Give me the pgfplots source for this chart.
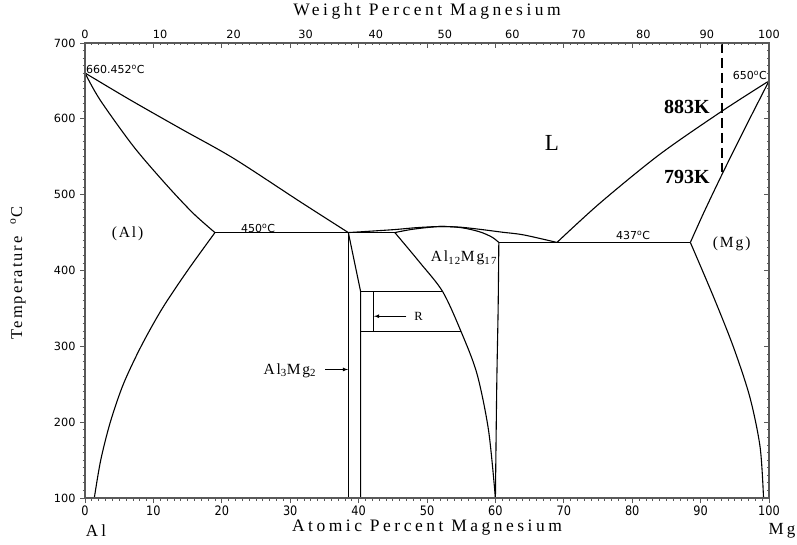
\documentclass[border=0pt]{standalone}
\usepackage{pgfplots}
\pgfplotsset{compat=1.18}
\usepackage{fontspec}
\setmainfont{Liberation Serif}
\newfontfamily\tickfont{DejaVu Sans}
\newfontfamily\spacedserif[LetterSpace=12]{Liberation Serif}
\newfontfamily\titleserif[LetterSpace=20]{Liberation Serif}
\begin{document}
\begin{tikzpicture}
\useasboundingbox (0,0) rectangle (797bp,545bp);
\pgfplotsset{
  geo/.style={at={(85bp,47bp)}, anchor=south west, scale only axis,
    width=684bp, height=455bp, xmin=0, xmax=100, ymin=100, ymax=700,
    xtick={0,10,...,100}, minor x tick num=9,
    ytick={100,200,...,700}, minor y tick num=9,
    major tick length=5bp, minor tick length=2.5bp,
    axis line style={line width=1.1bp, black!65},
    tick style={black!65, line width=0.7bp},
    ticklabel style={font=\tickfont\fontsize{11.3bp}{13bp}\selectfont},
    /pgf/number format/assume math mode=true,
  },
  curve/.style={black, line width=1.1bp, no marks},
}
\begin{axis}[geo, xtick pos=bottom, ytick pos=left, tick align=outside,
  xticklabel style={yscale=1.15, yshift=1bp},
  yticklabel style={xshift=-1bp}, clip=false]
% Al liquidus
\addplot[curve, smooth] coordinates {(0,660.45) (6.6,625) (14,587) (21.7,548) (31.4,491) (38.5,450)};
% Al solidus
\addplot[curve, smooth] coordinates {(0,660.45) (2.2,625) (7.1,563.5) (11.9,513) (15.8,475.6) (19,450)};
% Al solvus
\addplot[curve, smooth] coordinates {(19,450) (15.0,400) (11.3,350) (8.2,300) (5.6,250) (3.7,200) (2.3,150) (1.36,100)};
% 450 eutectic
\addplot[curve] coordinates {(19,450) (45.3,450)};
% Al3Mg2 boundaries
\addplot[curve] coordinates {(38.5,450) (38.5,100)};
\addplot[curve] coordinates {(38.5,450) (40.3,372) (40.3,100)};
% R phase
\addplot[curve] coordinates {(40.3,372) (52.3,372)};
\addplot[curve] coordinates {(40.3,319) (55.0,319)};
\addplot[curve] coordinates {(42.15,372) (42.15,319)};
% Al12Mg17 left boundary
\addplot[curve, smooth] coordinates {(45.3,450) (49.0,410) (52.3,372) (55.0,319) (57.3,264) (59.0,189) (60.0,100)};
% Al12Mg17 right boundary
\addplot[curve, smooth] coordinates {(60.5,437) (60.4,350) (60.2,250) (60.0,100)};
% liquidus over gamma
\addplot[curve, smooth] coordinates {(38.5,450) (42,452) (45.3,454) (48.5,456.5) (51.9,458) (55,457) (58,454) (61,450.5) (64.1,447) (69,437)};
% gamma solidus
\addplot[curve, smooth] coordinates {(45.3,450) (48,454.5) (51.9,458) (55,456.5) (57.7,451) (59.5,444) (60.5,437)};
% 437 eutectic
\addplot[curve] coordinates {(60.5,437) (88.5,437)};
% Mg liquidus
\addplot[curve, smooth] coordinates {(69,437) (75.3,489) (84,553) (93.1,610) (100,650)};
% Mg solidus
\addplot[curve, smooth] coordinates {(88.5,437) (90.5,477) (93.2,528) (96.5,588) (100,650)};
% Mg solvus
\addplot[curve, smooth] coordinates {(88.5,437) (91.9,365) (94.8,299) (97.2,233) (98.7,167) (99.2,100)};
% dashed line
\addplot[black, line width=2.6bp, dash pattern=on 10bp off 5bp, no marks] coordinates {(93.1,700) (93.1,530)};
% arrows
\addplot[black, line width=0.8bp, -latex, no marks] coordinates {(35.1,269.5) (38.45,269.5)};
\addplot[black, line width=0.8bp, -latex, no marks] coordinates {(47.0,339.7) (42.25,339.7)};
\end{axis}
\begin{axis}[geo, xtick pos=top, ytick pos=right, tick align=inside,
  xticklabels={}, yticklabels={},
  extra x ticks={0,10.980,21.724,32.239,42.532,52.609,62.481,72.147,81.619,90.901,100},
  extra x tick labels={0,10,20,30,40,50,60,70,80,90,100},
  extra x tick style={major tick length=0bp, xticklabel pos=top, tick align=inside},
  xticklabel style={yshift=1bp}]
\end{axis}
% texts
\node[font=\titleserif\fontsize{17.5bp}{19bp}\selectfont] at (427bp,534bp) {Weight Percent Magnesium};
\node[font=\titleserif\fontsize{17.5bp}{19bp}\selectfont] at (427bp,17bp) {Atomic Percent Magnesium};
\node[font=\titleserif\fontsize{17bp}{19bp}\selectfont] at (96bp,14bp) {Al};
\node[font=\titleserif\fontsize{17bp}{19bp}\selectfont] at (782bp,14bp) {Mg};
\node[font=\spacedserif\fontsize{16.5bp}{18bp}\selectfont, rotate=90] at (18bp,272bp) {Temperature\ \ \textsuperscript{o}C};
\node[font=\tickfont\fontsize{11bp}{12bp}\selectfont, anchor=west, inner sep=0pt] at (86bp,475.5bp) {660.452\textsuperscript{o}C};
\node[font=\tickfont\fontsize{11bp}{12bp}\selectfont, anchor=east, inner sep=0pt] at (767bp,470bp) {650\textsuperscript{o}C};
\node[font=\tickfont\fontsize{11bp}{12bp}\selectfont, inner sep=0pt] at (258bp,316.7bp) {450\textsuperscript{o}C};
\node[font=\tickfont\fontsize{11bp}{12bp}\selectfont, inner sep=0pt] at (633bp,309.3bp) {437\textsuperscript{o}C};
\node[font=\spacedserif\fontsize{15.5bp}{18bp}\selectfont, inner sep=0pt] at (127.5bp,311.7bp) {(Al)};
\node[font=\spacedserif\fontsize{15.5bp}{18bp}\selectfont, inner sep=0pt] at (731.7bp,301bp) {(Mg)};
\node[font=\fontsize{23bp}{25bp}\selectfont, inner sep=0pt] at (552bp,402bp) {L};
\node[font=\spacedserif\fontsize{15.5bp}{18bp}\selectfont, anchor=base west, inner sep=0pt] at (430.7bp,283bp) {Al\textsubscript{12}Mg\textsubscript{17}};
\node[font=\spacedserif\fontsize{15.5bp}{18bp}\selectfont, anchor=base west, inner sep=0pt] at (263.3bp,170.7bp) {Al\textsubscript{3}Mg\textsubscript{2}};
\node[font=\fontsize{12.5bp}{14bp}\selectfont, inner sep=0pt] at (418.5bp,229bp) {R};
\node[font=\bfseries\fontsize{20bp}{22bp}\selectfont, inner sep=0pt] at (687bp,438.3bp) {883K};
\node[font=\bfseries\fontsize{20bp}{22bp}\selectfont, inner sep=0pt] at (687bp,368.3bp) {793K};
\end{tikzpicture}
\end{document}
